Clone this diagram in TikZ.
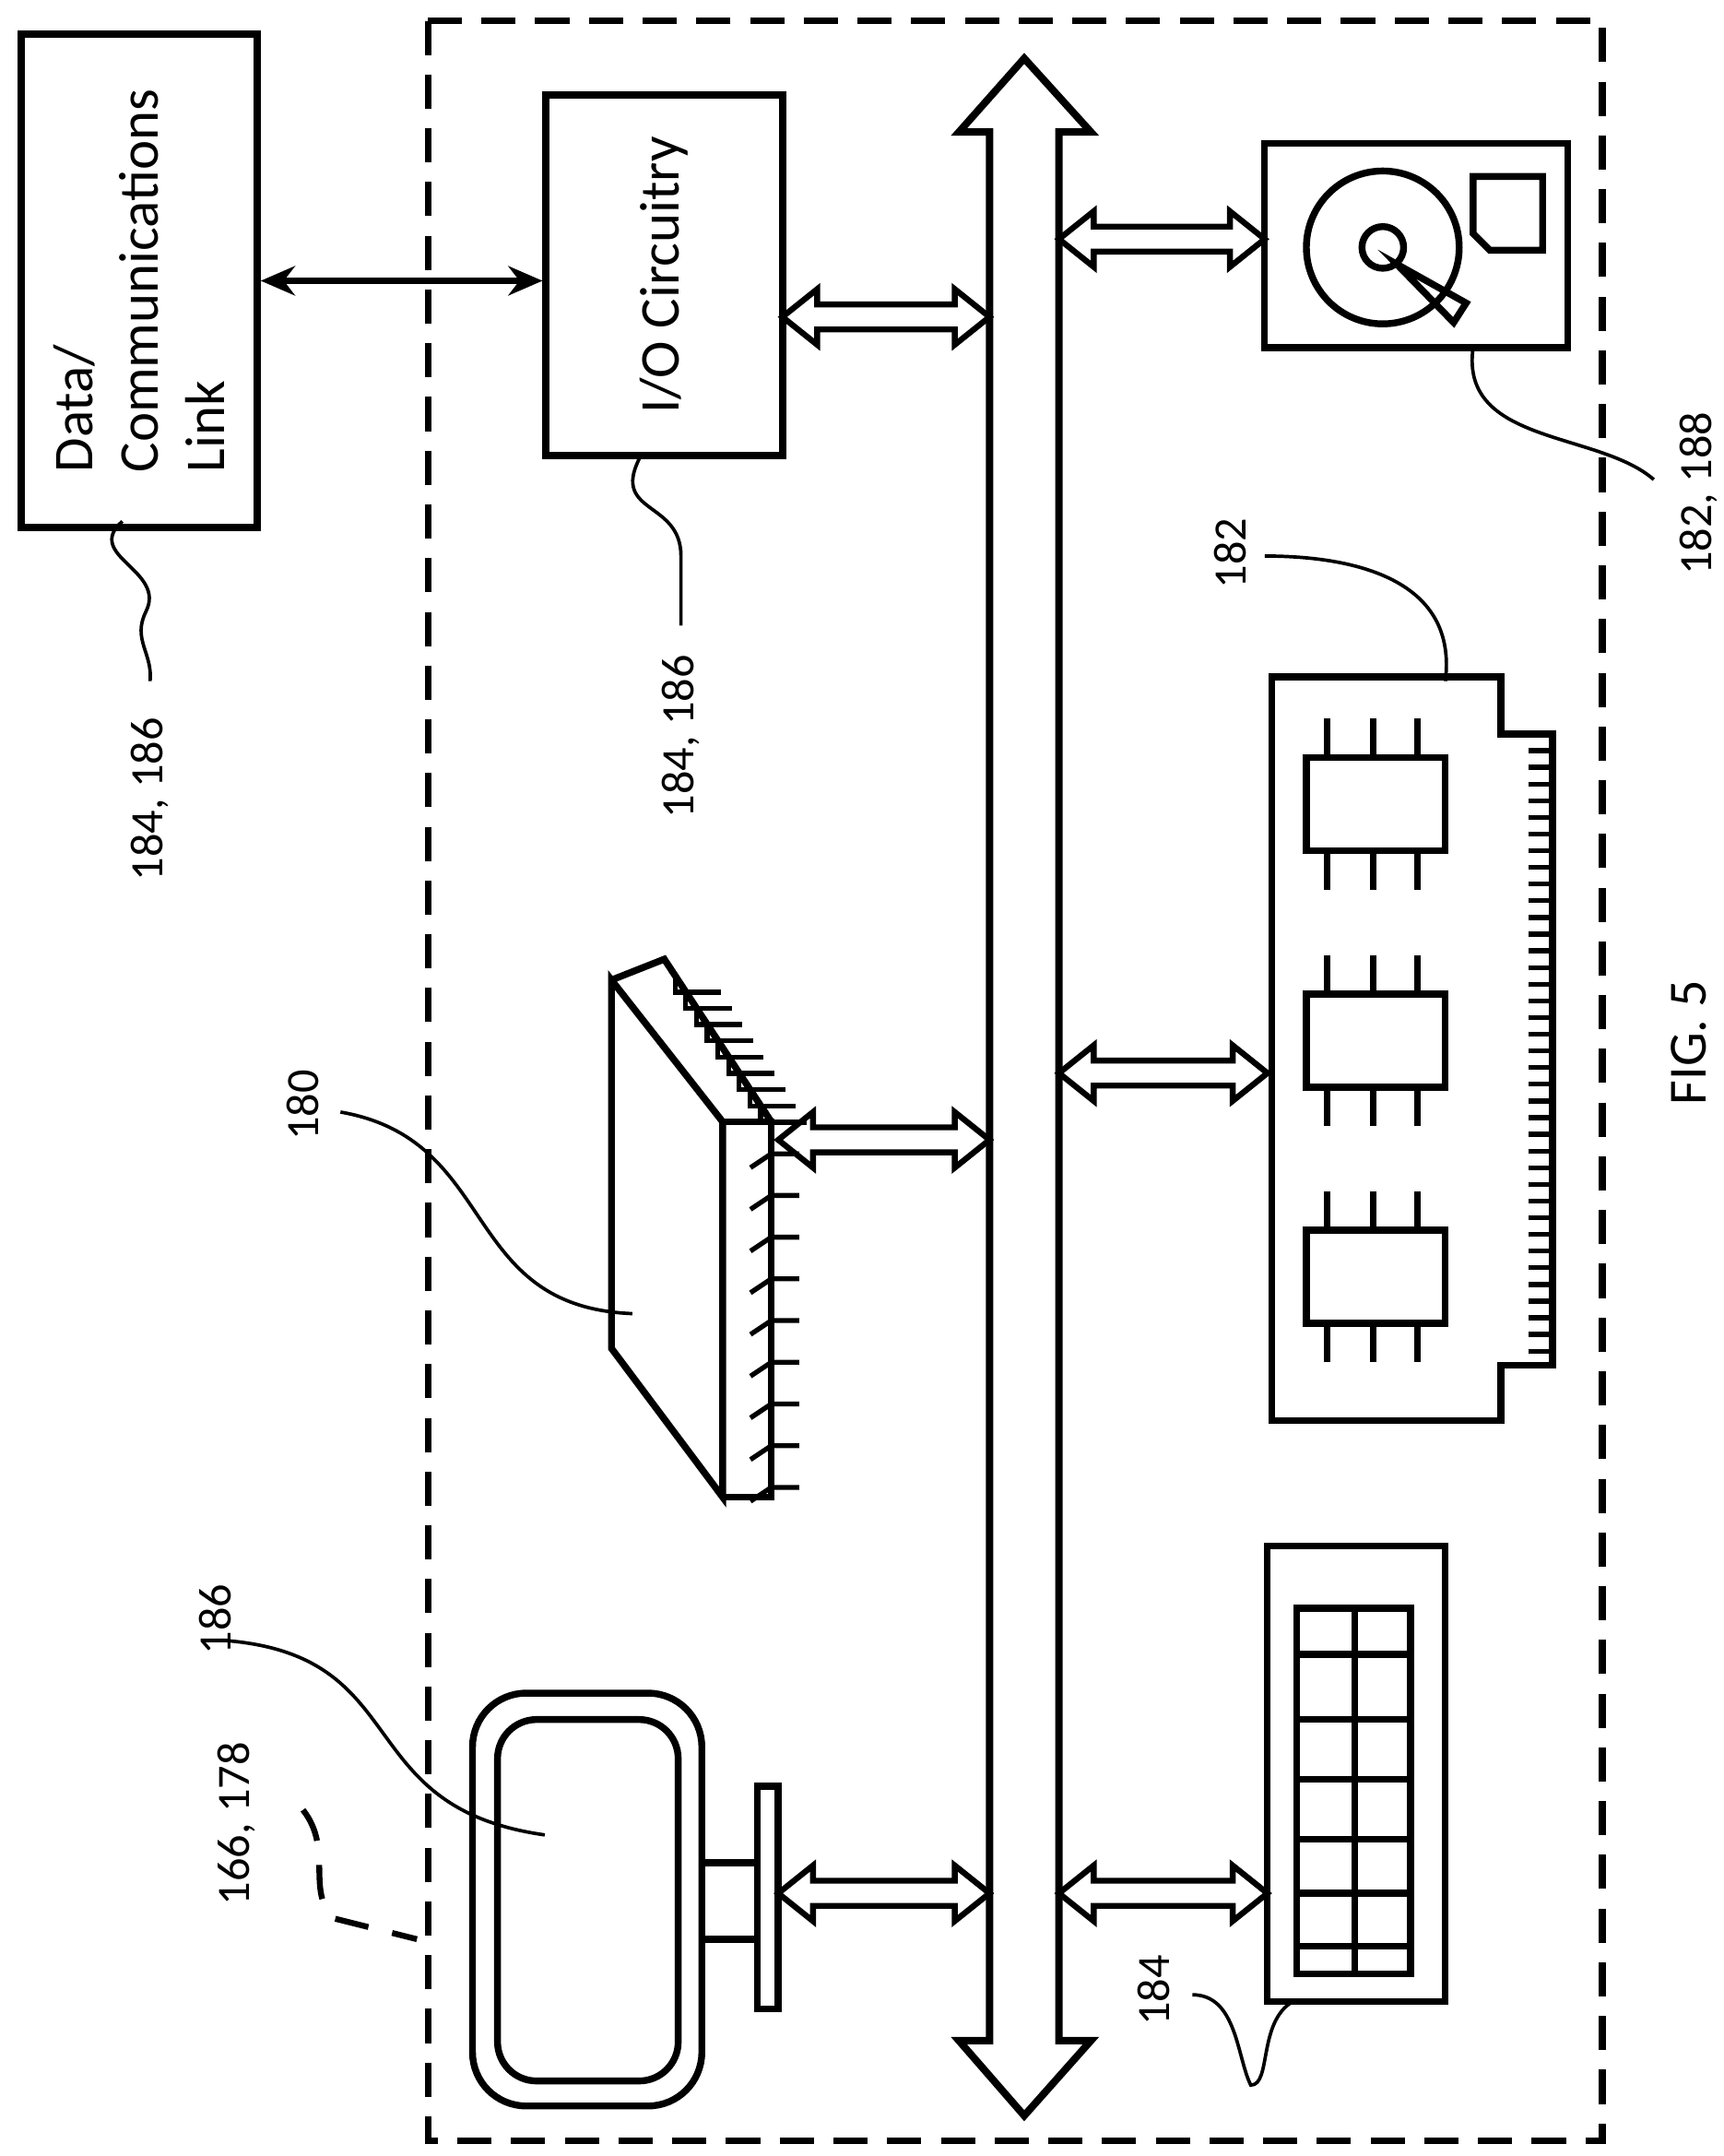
\documentclass[tikz,border=0pt]{standalone}
\usepackage{fontspec}
\setmainfont{Carlito}
\usetikzlibrary{arrows.meta,calc}
\tikzset{
  box/.style={draw,line width=3pt},
  part/.style={draw,line width=2.8pt},
  lead/.style={line width=1.4pt},
  lbl/.style={rotate=90,font=\fontsize{19}{22}\selectfont},
  boxtext/.style={rotate=90,font=\fontsize{23}{27}\selectfont},
}
% hollow horizontal double arrow: x1, x2, y
\newcommand\hdarrow[3]{%
  \draw[part,line width=2.4pt,fill=white] (#1,#3) -- (#1+25,#3-20) -- (#1+25,#3-9) -- (#2-25,#3-9)
    -- (#2-25,#3-20) -- (#2,#3) -- (#2-25,#3+20) -- (#2-25,#3+9) -- (#1+25,#3+9) -- (#1+25,#3+20) -- cycle;}
\begin{document}
\begin{tikzpicture}[x=0.02cm,y=-0.02cm]
\useasboundingbox (0,0) rectangle (1240,1551);

% frame
\draw[line width=2.8pt,dash pattern=on 14pt off 8pt] (308,15) rectangle (1153,1540);

% link and I/O boxes
\node[box,minimum width=3.4cm,minimum height=7.1cm] (link) at (100,202) {};
\node[boxtext,align=left] at (link.center) {Data/\\Communications\\Link};
\node[box,minimum width=3.4cm,minimum height=5.2cm] (io) at (478,198) {};
\node[boxtext] at (io.center) {I/O Circuitry};
\draw[line width=2.8pt,{Stealth[length=14pt,width=12pt]}-{Stealth[length=14pt,width=12pt]}] (link.east |- 0,202) -- (io.west |- 0,202);

% bus
\draw[part,line width=3pt,fill=white] (737,42) -- (785,95) -- (762,95) -- (762,1468) -- (785,1468) -- (737,1522)
  -- (690,1468) -- (712,1468) -- (712,95) -- (690,95) -- cycle;

% connections to bus
\hdarrow{563}{712}{228}
\hdarrow{762}{910}{172}
\hdarrow{560}{712}{820}
\hdarrow{762}{912}{772}
\hdarrow{560}{712}{1362}
\hdarrow{762}{912}{1362}

% disk
\draw[part] (910,103) rectangle (1128,250);
\draw[part] (995,178) circle (1.1cm);
\draw[part] (995,178) circle (0.3cm);
\draw[part] (1060,127) -- (1110,127) -- (1110,180) -- (1072,180) -- (1060,168) -- cycle;
\draw[part] (1005,190) -- (1055,218) -- (1046,232) -- cycle;

% memory
\draw[part] (915,487) -- (1080,487) -- (1080,528) -- (1117,528) -- (1117,982) -- (1080,982) -- (1080,1022) -- (915,1022) -- cycle;
\foreach \y in {540,552,...,975} \draw[line width=2pt] (1100,\y) -- (1117,\y);
\foreach \cy in {545,715,885} {
  \draw[part] (940,\cy) rectangle (1040,\cy+67);
  \foreach \px in {955,988,1020} {
    \draw[line width=2.8pt] (\px,\cy) -- (\px,\cy-28);
    \draw[line width=2.8pt] (\px,\cy+67) -- (\px,\cy+95);
  }
}

% processor
\draw[part] (440,705) -- (520,807) -- (520,1077) -- (440,970) -- cycle;
\draw[part] (520,807) -- (555,807) -- (555,1077) -- (520,1077);
\draw[part] (440,705) -- (478,690) -- (555,807);
\foreach \t in {0.1,0.2,...,0.95} \draw[line width=2pt] ($(478,690)!\t!(555,807)$) -- ++(0,12) -- ++(8,0) -- ++(25,0);
\foreach \y in {830,860,...,1070} \draw[line width=2pt] (540,\y+10) -- (555,\y) -- (575,\y);

% monitor
\draw[part,rounded corners=22pt] (340,1218) rectangle (505,1515);
\draw[part,rounded corners=16pt] (358,1237) rectangle (488,1497);
\draw[part] (505,1340) rectangle (545,1395);
\draw[part] (545,1285) rectangle (560,1445);

% keyboard
\draw[part] (912,1112) rectangle (1040,1440);
\draw[part] (933,1157) rectangle (1015,1420);
\draw[part] (975,1157) -- (975,1420);
\foreach \y in {1190,1237,1280,1323,1362,1400} \draw[part] (933,\y) -- (1015,\y);

% leaders and labels
\draw[lead] (88,375) .. controls (60,400) and (120,410) .. (105,440) .. controls (95,460) and (110,470) .. (108,490);
\node[lbl] (l1) at (108,575) {184, 186};
\draw[lead] (460,330) .. controls (440,370) and (490,360) .. (490,400) -- (490,450);
\node[lbl] (l2) at (490,530) {184, 186};
\draw[lead] (1060,250) .. controls (1050,320) and (1150,310) .. (1190,345);
\node[lbl] (l3) at (1222,355) {182, 188};
\draw[lead] (1040,490) .. controls (1050,410) and (960,400) .. (910,400);
\node[lbl] (l4) at (885,398) {182};
\draw[lead] (455,945) .. controls (330,940) and (360,820) .. (245,800);
\node[lbl] (l5) at (218,795) {180};
\draw[lead] (392,1320) .. controls (250,1300) and (300,1190) .. (160,1180);
\node[lbl] (l6) at (155,1165) {186};
\node[lbl] (l7) at (170,1312) {166, 178};
\draw[lead,line width=2.4pt,dash pattern=on 14pt off 10pt] (218,1302) .. controls (240,1330) and (220,1360) .. (240,1380) -- (300,1395);
\draw[lead] (930,1440) .. controls (905,1455) and (915,1500) .. (900,1500) .. controls (890,1480) and (890,1435) .. (858,1435);
\node[lbl] (l8) at (830,1432) {184};
\node[lbl,font=\fontsize{22}{26}\selectfont] (fig) at (1215,750) {FIG. 5};
\end{tikzpicture}
\end{document}
